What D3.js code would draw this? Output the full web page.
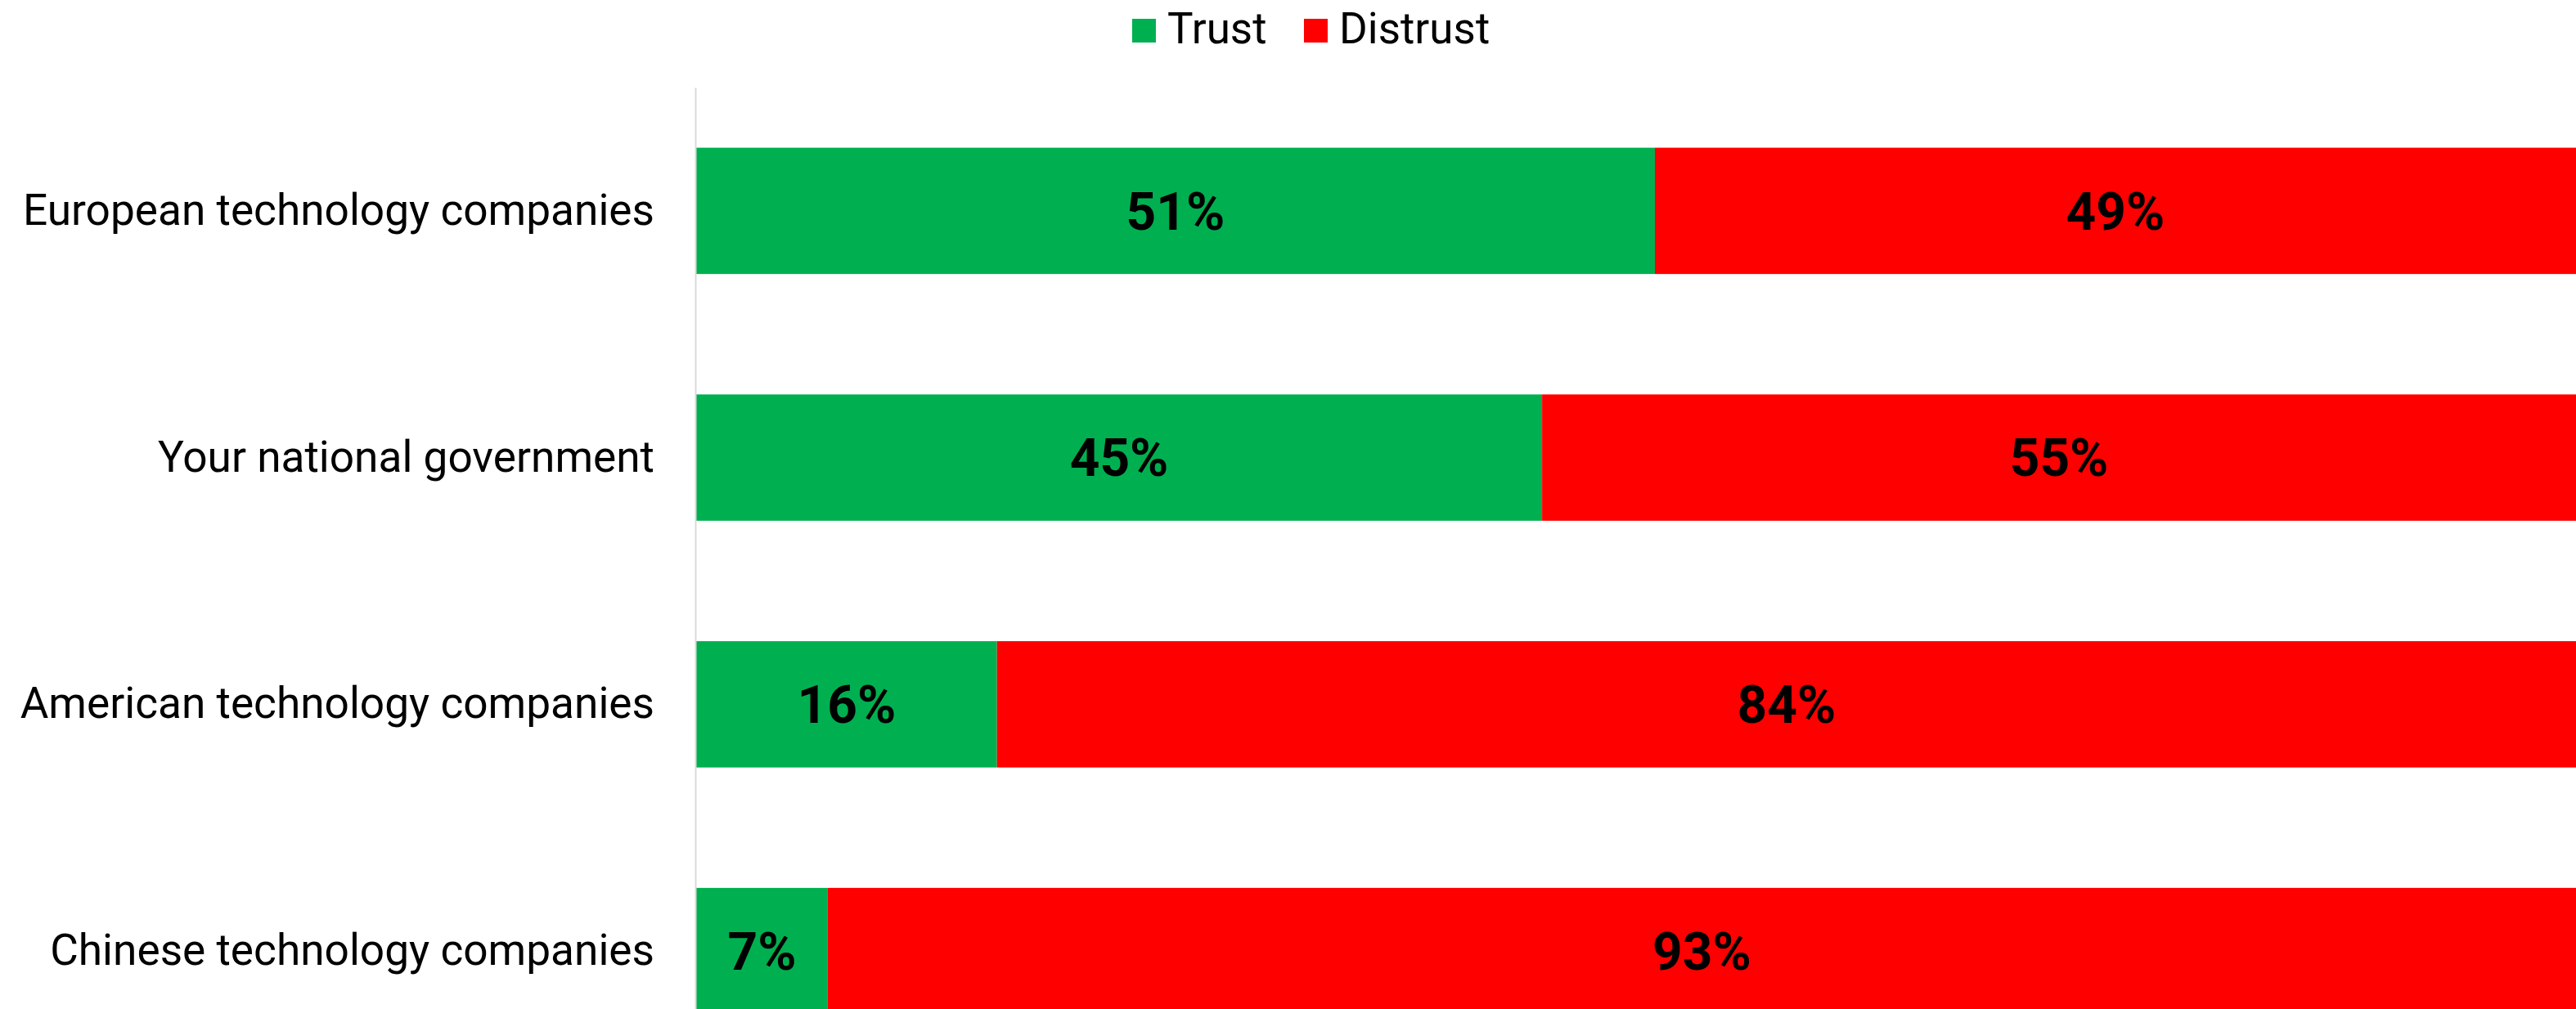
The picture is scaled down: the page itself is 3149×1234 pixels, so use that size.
<!DOCTYPE html>
<html>
<head>
<meta charset="utf-8">
<script src="https://cdn.jsdelivr.net/npm/d3@7"></script>
<style>
  html, body { margin: 0; padding: 0; background: #fff; }
  svg { display: block; font-family: Roboto, "Noto Sans", sans-serif; }
</style>
</head>
<body>
<svg id="chart" width="3149" height="1234"></svg>
<script>
// Survey answers: share of respondents who trust / distrust each actor (%)
const categories = [
  "European technology companies",
  "Your national government",
  "American technology companies",
  "Chinese technology companies"
];
const trust = [51, 45, 16, 7];
const distrust = [49, 55, 84, 93];
const seriesNames = ["Trust", "Distrust"];
const seriesColors = ["#00B050", "#FF0000"];

const W = 3149, H = 1234;
const margin = { left: 851, right: 0, top: 107 };
const plotBottom = 1314; // last band runs past the visible area

const svg = d3.select("#chart");

const x = d3.scaleLinear()
  .domain([0, 100])
  .range([margin.left, W - margin.right]);

const y = d3.scaleBand()
  .domain(categories)
  .range([margin.top, plotBottom])
  .paddingInner(0.488)
  .paddingOuter(0.244);

const rows = categories.map((c, i) => ({
  cat: c,
  segs: [
    { key: 0, x0: 0, x1: trust[i], v: trust[i] },
    { key: 1, x0: trust[i], x1: trust[i] + distrust[i], v: distrust[i] }
  ]
}));

// stacked bars
const g = svg.append("g");
const row = g.selectAll("g.row").data(rows).join("g").attr("class", "row");

row.selectAll("rect")
  .data(d => d.segs.map(s => ({ ...s, cat: d.cat })))
  .join("rect")
  .attr("x", d => x(d.x0))
  .attr("y", d => y(d.cat))
  .attr("width", d => x(d.x1) - x(d.x0))
  .attr("height", y.bandwidth())
  .attr("fill", d => seriesColors[d.key]);

// value labels centered in each segment
row.selectAll("text")
  .data(d => d.segs.map(s => ({ ...s, cat: d.cat })))
  .join("text")
  .attr("x", d => (x(d.x0) + x(d.x1)) / 2)
  .attr("y", d => y(d.cat) + y.bandwidth() / 2)
  .attr("dy", "0.355em")
  .attr("text-anchor", "middle")
  .attr("font-size", 64)
  .attr("font-weight", 700)
  .attr("fill", "#000")
  .text(d => d.v + "%");

// category axis
const yAxis = d3.axisLeft(y).tickSize(0).tickPadding(50);
const ax = svg.append("g")
  .attr("transform", `translate(${margin.left - 1},0)`)
  .call(yAxis);
ax.select(".domain").attr("stroke", "#d9d9d9").attr("stroke-width", 2);
ax.selectAll(".tick text")
  .attr("font-size", 53.2)
  .attr("font-family", "Roboto, sans-serif")
  .attr("fill", "#000");

// legend
const legendItems = [
  { name: seriesNames[0], color: seriesColors[0], x: 1384 },
  { name: seriesNames[1], color: seriesColors[1], x: 1594 }
];
const lg = svg.append("g");
legendItems.forEach(it => {
  lg.append("rect")
    .attr("x", it.x).attr("y", 23)
    .attr("width", 29).attr("height", 29)
    .attr("fill", it.color);
  lg.append("text")
    .attr("x", it.x + 43).attr("y", 53)
    .attr("font-size", 53)
    .attr("fill", "#000")
    .text(it.name);
});
</script>
</body>
</html>
